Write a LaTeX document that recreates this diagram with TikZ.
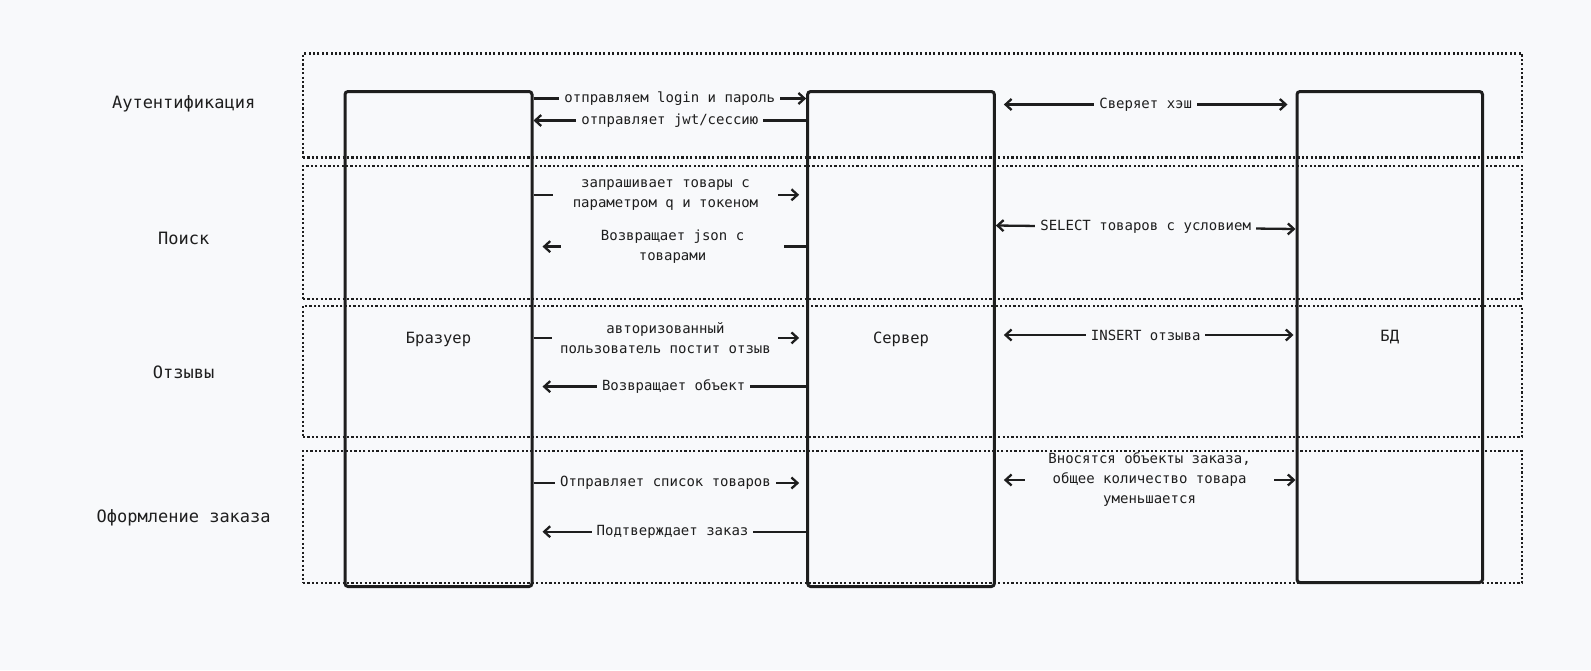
\documentclass[tikz,border=0pt]{standalone}
\usepackage{fontspec}
\setmonofont{DejaVu Sans Mono}
\usetikzlibrary{arrows.meta}
\definecolor{bg}{HTML}{F8F9FB}
\definecolor{ink}{HTML}{1E1E1E}
\begin{document}
\begin{tikzpicture}[x=1pt,y=-1pt,
  every node/.style={text=ink},
  lane/.style={draw=ink, line width=2.1pt, dash pattern=on 2.1pt off 2.3pt, rectangle, inner sep=0pt},
  actor/.style={draw=ink, line width=3pt, rounded corners=3pt, rectangle, inner sep=0pt, font=\ttfamily\fontsize{15.5}{18}\selectfont},
  barb/.tip={Straight Barb[length=6pt,width=11pt]},
  arr/.style={draw=ink, line width=2.3pt, -barb},
  darr/.style={draw=ink, line width=2.3pt, barb-barb},
  lbl/.style={fill=bg, inner xsep=5pt, inner ysep=1pt, font=\ttfamily\fontsize{14}{20}\selectfont, align=center},
  sec/.style={font=\ttfamily\fontsize{17}{20}\selectfont}
]
\fill[bg] (0,0) rectangle (1591,670);
\useasboundingbox (0,0) rectangle (1591,670);

% swim lanes
\node[lane, minimum width=1219, minimum height=104] (f1) at (912.5,105.5) {};
\node[lane, minimum width=1219, minimum height=132.7] (f2) at (912.5,232.35) {};
\node[lane, minimum width=1219, minimum height=131.3] (f3) at (912.5,371.65) {};
\node[lane, minimum width=1219, minimum height=132.3] (f4) at (912.5,517.15) {};

% section labels
\node[sec] (s1) at (183.7,104) {Аутентификация};
\node[sec] (s2) at (183.7,238.5) {Поиск};
\node[sec] (s3) at (183.7,372.4) {Отзывы};
\node[sec] (s4) at (183.7,517.5) {Оформление заказа};

% actors
\node[actor, minimum width=187, minimum height=495] (browser) at (438.5,339) {Бразуер};
\node[actor, minimum width=186.7, minimum height=495] (server) at (901,339) {Сервер};
\node[actor, minimum width=185.5, minimum height=491] (db) at (1389.75,337) {БД};

% authentication
\draw[arr] (browser.east |- 0,98.5) -- node[lbl]{отправляем login и пароль} (server.west |- 0,98.5);
\draw[arr] (server.west |- 0,120.5) -- node[lbl]{отправляет jwt/сессию} (browser.east |- 0,120.5);
\draw[darr, shorten <=8pt, shorten >=8pt] (server.east |- 0,104.5) -- node[lbl]{Сверяет хэш} (db.west |- 0,104.5);

% search
\draw[arr, shorten >=7pt] (browser.east |- 0,194.8) -- node[lbl, minimum width=225, pos=0.484]{запрашивает товары с\\параметром q и токеном} (server.west |- 0,194.8);
\draw[arr, shorten >=9pt] (server.west |- 0,246.6) -- node[lbl, minimum width=223, pos=0.49]{Возвращает json с\\товарами} (browser.east |- 0,246.6);
\draw[darr] (server.east |- 0,225.5) -- node[lbl]{SELECT товаров с условием} (db.west |- 0,229);

% reviews
\draw[arr, shorten >=7pt] (browser.east |- 0,337.9) -- node[lbl, minimum width=226, pos=0.484]{авторизованный\\пользователь постит отзыв} (server.west |- 0,337.9);
\draw[arr, shorten >=9pt] (server.west |- 0,386.6) -- node[lbl, pos=0.486]{Возвращает объект} (browser.east |- 0,386.6);
\draw[darr, shorten <=8pt, shorten >=2pt] (server.east |- 0,335) -- node[lbl]{INSERT отзыва} (db.west |- 0,335);

% order
\draw[arr, shorten >=7pt] (browser.east |- 0,483) -- node[lbl, pos=0.484]{Отправляет список товаров} (server.west |- 0,483);
\draw[arr, shorten >=9pt] (server.west |- 0,531.7) -- node[lbl, pos=0.49]{Подтверждает заказ} (browser.east |- 0,531.7);
\draw[darr, shorten <=8pt] (server.east |- 0,480) -- node[lbl, minimum width=249, pos=0.513]{Вносятся объекты заказа,\\общее количество товара\\уменьшается} (db.west |- 0,480);
\end{tikzpicture}
\end{document}
